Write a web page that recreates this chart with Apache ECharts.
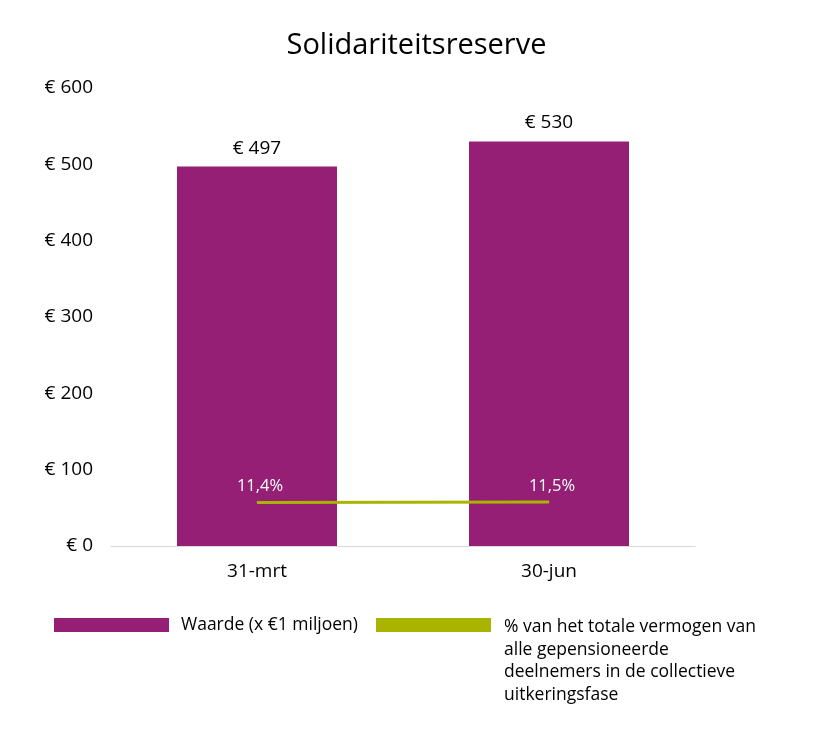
<!DOCTYPE html>
<html>
<head>
<meta charset="utf-8">
<script src="https://cdn.jsdelivr.net/npm/echarts@6/dist/echarts.min.js"></script>
<style>html,body{margin:0;padding:0;background:#fff}#c{width:833px;height:736px}</style>
</head>
<body>
<div id="c"></div>
<script>
const categories = ['31-mrt', '30-jun'];
const waarde = [497, 530];
const percentage = [11.4, 11.5];
const yTicks = [0, 100, 200, 300, 400, 500, 600];
const nameBar = 'Waarde (x €1 miljoen)';
const nameLine = '% van het totale vermogen van alle gepensioneerde deelnemers in de collectieve uitkeringsfase';

const FONT = '"Open Sans", "Liberation Sans", Arial, sans-serif';
const chart = echarts.init(document.getElementById('c'));
chart.setOption({
  backgroundColor: '#ffffff',
  animation: false,
  textStyle: { fontFamily: FONT },
  title: {
    text: 'Solidariteitsreserve',
    left: 'center', top: 26,
    textStyle: { fontFamily: FONT, fontSize: 29, fontWeight: 'normal', color: '#000' }
  },
  legend: [
    {
      data: [nameBar], left: 54, top: 616, padding: 0,
      itemWidth: 115, itemHeight: 14, icon: 'rect', itemGap: 10,
      selectedMode: false,
      textStyle: { fontFamily: FONT, fontSize: 17.5, color: '#000', padding: [6,0,0,7] }
    },
    {
      data: [nameLine], left: 376, top: 616, padding: 0,
      itemWidth: 115, itemHeight: 88,
      icon: 'path://M0,0h0.01v0.01h-0.01z M0,1h115v14h-115z M0,88h0.01v0.01h-0.01z',
      selectedMode: false,
      formatter: () => '% van het totale vermogen van\nalle gepensioneerde\ndeelnemers in de collectieve\nuitkeringsfase',
      textStyle: { fontFamily: FONT, fontSize: 17.5, color: '#000', lineHeight: 22.5, padding: [0,0,0,8] }
    }
  ],
  grid: { left: 111, width: 584, top: 88, height: 458 },
  xAxis: {
    type: 'category', data: categories,
    axisLine: { lineStyle: { color: '#D9D9D9', width: 1 } },
    axisTick: { show: false },
    axisLabel: { fontFamily: FONT, fontSize: 19, color: '#000', margin: 16 }
  },
  yAxis: [
    {
      type: 'value', min: yTicks[0], max: yTicks[yTicks.length - 1], interval: 100,
      splitLine: { show: false },
      axisLine: { show: false }, axisTick: { show: false },
      axisLabel: { fontFamily: FONT, fontSize: 19, color: '#000', margin: 18, formatter: v => '€ ' + v }
    },
    { type: 'value', min: 0, max: 120, show: false, splitLine: { show: false } }
  ],
  series: [
    {
      name: nameBar, type: 'bar', data: waarde, barWidth: 160,
      itemStyle: { color: '#961F76' },
      label: { show: true, position: 'top', distance: 9, fontFamily: FONT, fontSize: 19, color: '#000', formatter: p => '€ ' + p.value }
    },
    {
      name: nameLine, type: 'line', yAxisIndex: 1, data: percentage,
      symbol: 'circle', symbolSize: 1, showSymbol: true,
      itemStyle: { color: '#A9B400' },
      lineStyle: { color: '#A9B400', width: 3 },
      label: { show: true, position: 'top', distance: 7, offset: [3, 0], fontFamily: FONT, fontSize: 16.5, color: '#fff',
        formatter: p => p.value.toFixed(1).replace('.', ',') + '%' }
    }
  ]
});
</script>
</body>
</html>
